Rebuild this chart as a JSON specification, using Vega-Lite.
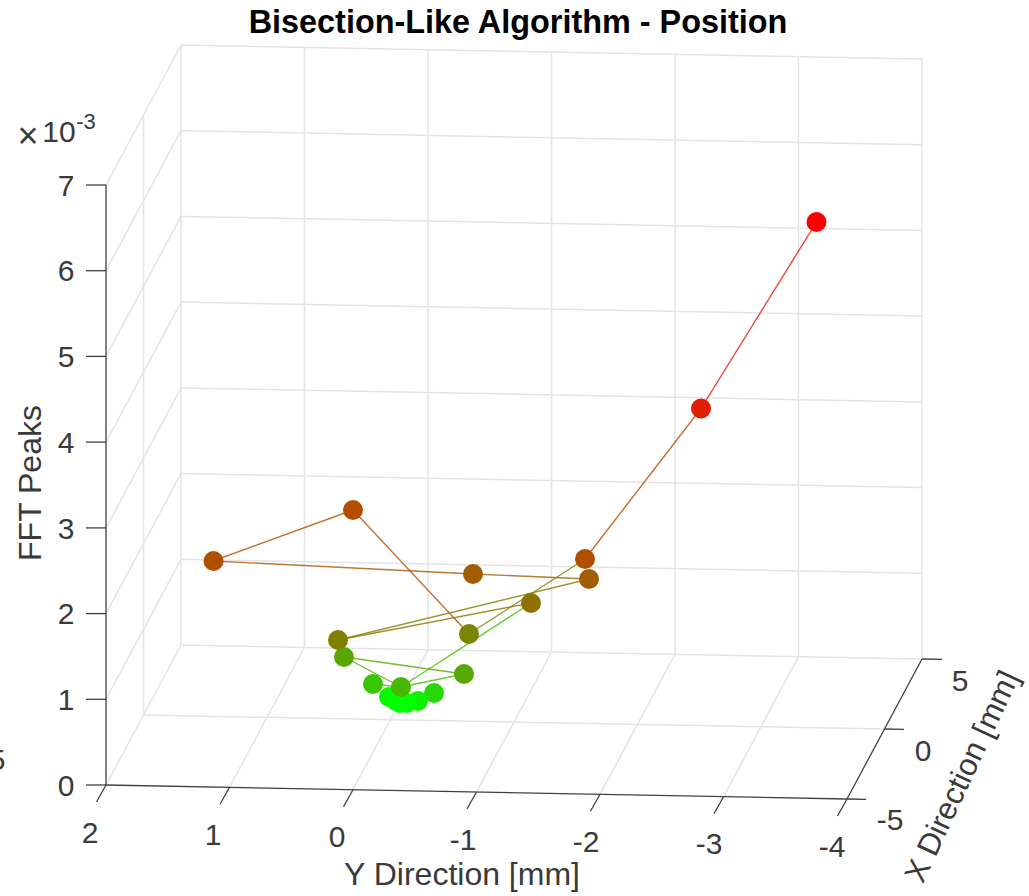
{
"$schema":"https://vega.github.io/schema/vega-lite/v6.json",
"width":1029,"height":896,"padding":0,"autosize":{"type":"none"},
"background":"white",
"config":{"view":{"stroke":null},"text":{"font":"Liberation Sans"}},
"datasets":{
"grid":[
{"x":181,"y":45,"x2":181,"y2":645},{"x":304.5,"y":47.3,"x2":304.5,"y2":647.3},{"x":428,"y":49.7,"x2":428,"y2":649.7},{"x":551.5,"y":52,"x2":551.5,"y2":652},{"x":675,"y":54.3,"x2":675,"y2":654.3},{"x":798.5,"y":56.7,"x2":798.5,"y2":656.7},{"x":922,"y":59,"x2":922,"y2":659},
{"x":143.5,"y":115,"x2":143.5,"y2":715},
{"x":143.5,"y":715,"x2":884.5,"y2":729},
{"x":106,"y":785,"x2":181,"y2":645},{"x":229.5,"y":787.3,"x2":304.5,"y2":647.3},{"x":353,"y":789.7,"x2":428,"y2":649.7},{"x":476.5,"y":792,"x2":551.5,"y2":652},{"x":600,"y":794.3,"x2":675,"y2":654.3},{"x":723.5,"y":796.7,"x2":798.5,"y2":656.7},
{"x":181,"y":645,"x2":922,"y2":659},{"x":181,"y":559.3,"x2":922,"y2":573.3},{"x":181,"y":473.6,"x2":922,"y2":487.6},{"x":181,"y":387.9,"x2":922,"y2":401.9},{"x":181,"y":302.1,"x2":922,"y2":316.1},{"x":181,"y":216.4,"x2":922,"y2":230.4},{"x":181,"y":130.7,"x2":922,"y2":144.7},{"x":181,"y":45,"x2":922,"y2":59},
{"x":106,"y":699.3,"x2":181,"y2":559.3},{"x":106,"y":613.6,"x2":181,"y2":473.6},{"x":106,"y":527.9,"x2":181,"y2":387.9},{"x":106,"y":442.1,"x2":181,"y2":302.1},{"x":106,"y":356.4,"x2":181,"y2":216.4},{"x":106,"y":270.7,"x2":181,"y2":130.7},{"x":106,"y":185,"x2":181,"y2":45}
],
"axes":[
{"x":106,"y":185,"x2":106,"y2":785},{"x":106,"y":785,"x2":847,"y2":799},{"x":847,"y":799,"x2":922,"y2":659},
{"x":86,"y":785,"x2":106,"y2":785},{"x":86,"y":699.3,"x2":106,"y2":699.3},{"x":86,"y":613.6,"x2":106,"y2":613.6},{"x":86,"y":527.9,"x2":106,"y2":527.9},{"x":86,"y":442.1,"x2":106,"y2":442.1},{"x":86,"y":356.4,"x2":106,"y2":356.4},{"x":86,"y":270.7,"x2":106,"y2":270.7},{"x":86,"y":185,"x2":106,"y2":185},
{"x":106,"y":785,"x2":96.5,"y2":802},{"x":229.5,"y":787.3,"x2":220,"y2":804.3},{"x":353,"y":789.7,"x2":343.5,"y2":806.7},{"x":476.5,"y":792,"x2":467,"y2":809},{"x":600,"y":794.3,"x2":590.5,"y2":811.3},{"x":723.5,"y":796.7,"x2":714,"y2":813.7},{"x":847,"y":799,"x2":837.5,"y2":816},
{"x":922,"y":659,"x2":942,"y2":659.4},{"x":884.5,"y":729,"x2":904,"y2":729.4},{"x":847,"y":799,"x2":866,"y2":799.4}
],
"segments":[
{"x":816.5,"y":222,"x2":701,"y2":408.5,"iteration":8},
{"x":701,"y":408.5,"x2":585,"y2":559,"iteration":28},
{"x":353,"y":510,"x2":469,"y2":634,"iteration":30},
{"x":353,"y":510,"x2":213,"y2":561,"iteration":30},
{"x":213,"y":561,"x2":473,"y2":574,"iteration":35},
{"x":473,"y":574,"x2":589,"y2":579,"iteration":37},
{"x":589,"y":579,"x2":338,"y2":640,"iteration":50},
{"x":338,"y":640,"x2":531,"y2":603,"iteration":44},
{"x":469,"y":634,"x2":585,"y2":559,"iteration":50},
{"x":531,"y":603,"x2":401,"y2":687,"iteration":75},
{"x":401,"y":687,"x2":464,"y2":674,"iteration":75},
{"x":464,"y":674,"x2":344,"y2":657,"iteration":66},
{"x":344,"y":657,"x2":401,"y2":687,"iteration":62},
{"x":401,"y":687,"x2":373,"y2":684,"iteration":80}
],
"points":[
{"x":816.5,"y":222,"iteration":0},{"x":701,"y":408.5,"iteration":12},{"x":585,"y":559,"iteration":31},{"x":353,"y":510,"iteration":30},{"x":213.5,"y":561,"iteration":31},{"x":473,"y":574,"iteration":37},{"x":589,"y":579,"iteration":37},{"x":531,"y":603,"iteration":44},{"x":344,"y":657,"iteration":65},{"x":338,"y":640,"iteration":50},{"x":469,"y":634,"iteration":52},{"x":464,"y":674,"iteration":66},{"x":373,"y":684,"iteration":78},{"x":434,"y":693,"iteration":85},{"x":418,"y":701,"iteration":94},{"x":389,"y":697,"iteration":97},{"x":396,"y":701,"iteration":99},{"x":400,"y":703,"iteration":100},{"x":407,"y":703,"iteration":100},{"x":401,"y":687,"iteration":72}
]
},
"layer":[
{"data":{"name":"grid"},"mark":{"type":"rule","stroke":"#e4e4e4","strokeWidth":1.5},
 "encoding":{"x":{"field":"x","type":"quantitative","scale":{"domain":[0,1029],"nice":false,"zero":false},"axis":null},"y":{"field":"y","type":"quantitative","scale":{"domain":[896,0],"nice":false,"zero":false},"axis":null},"x2":{"field":"x2"},"y2":{"field":"y2"}}},
{"data":{"name":"axes"},"mark":{"type":"rule","stroke":"#404040","strokeWidth":1.3},
 "encoding":{"x":{"field":"x","type":"quantitative","axis":null,"scale":{"domain":[0,1029],"nice":false,"zero":false}},"y":{"field":"y","type":"quantitative","axis":null,"scale":{"domain":[896,0],"nice":false,"zero":false}},"x2":{"field":"x2"},"y2":{"field":"y2"}}},
{"data":{"name":"segments"},"mark":{"type":"rule","strokeWidth":1.4,"opacity":0.8},
 "encoding":{"x":{"field":"x","type":"quantitative","axis":null,"scale":{"domain":[0,1029],"nice":false,"zero":false}},"y":{"field":"y","type":"quantitative","axis":null,"scale":{"domain":[896,0],"nice":false,"zero":false}},"x2":{"field":"x2"},"y2":{"field":"y2"},
  "color":{"field":"iteration","type":"quantitative","legend":null,"scale":{"domain":[0,100],"range":["#ff0000","#00ff00"],"interpolate":"rgb"}}}},
{"data":{"name":"points"},"mark":{"type":"circle","size":400,"opacity":1},
 "encoding":{"x":{"field":"x","type":"quantitative","axis":null,"scale":{"domain":[0,1029],"nice":false,"zero":false}},"y":{"field":"y","type":"quantitative","axis":null,"scale":{"domain":[896,0],"nice":false,"zero":false}},
  "color":{"field":"iteration","type":"quantitative","legend":null,"scale":{"domain":[0,100],"range":["#ff0000","#00ff00"],"interpolate":"rgb"}}}},
{"data":{"values":[
 {"x":66,"y":187,"t":"7"},{"x":66,"y":272,"t":"6"},{"x":66,"y":358,"t":"5"},{"x":66,"y":444,"t":"4"},{"x":66,"y":530,"t":"3"},{"x":66,"y":615,"t":"2"},{"x":66,"y":701,"t":"1"},{"x":66,"y":787,"t":"0"},
 {"x":90,"y":834,"t":"2"},{"x":213,"y":836,"t":"1"},{"x":337,"y":838,"t":"0"},{"x":463,"y":841,"t":"-1"},{"x":586,"y":843,"t":"-2"},{"x":709,"y":845,"t":"-3"},{"x":832,"y":848,"t":"-4"},
 {"x":960,"y":682,"t":"5"},{"x":923,"y":752,"t":"0"},{"x":890,"y":821,"t":"-5"},{"x":-3,"y":761,"t":"5"},
 {"x":59,"y":133,"t":"10"}
 ]},
 "mark":{"type":"text","fontSize":30,"align":"center","baseline":"middle","fill":"#3a3a3a","font":"Liberation Sans"},
 "encoding":{"x":{"field":"x","type":"quantitative","axis":null,"scale":{"domain":[0,1029],"nice":false,"zero":false}},"y":{"field":"y","type":"quantitative","axis":null,"scale":{"domain":[896,0],"nice":false,"zero":false}},"text":{"field":"t"}}},
{"data":{"values":[{"x":28,"y":137,"t":"×"}]},
 "mark":{"type":"text","fontSize":36,"align":"center","baseline":"middle","fill":"#3a3a3a","font":"Liberation Sans"},
 "encoding":{"x":{"field":"x","type":"quantitative","axis":null,"scale":{"domain":[0,1029],"nice":false,"zero":false}},"y":{"field":"y","type":"quantitative","axis":null,"scale":{"domain":[896,0],"nice":false,"zero":false}},"text":{"field":"t"}}},
{"data":{"values":[{"x":86,"y":122,"t":"-3"}]},
 "mark":{"type":"text","fontSize":22,"align":"center","baseline":"middle","fill":"#3a3a3a","font":"Liberation Sans"},
 "encoding":{"x":{"field":"x","type":"quantitative","axis":null,"scale":{"domain":[0,1029],"nice":false,"zero":false}},"y":{"field":"y","type":"quantitative","axis":null,"scale":{"domain":[896,0],"nice":false,"zero":false}},"text":{"field":"t"}}},
{"data":{"values":[{"x":462,"y":875,"t":"Y Direction [mm]"}]},
 "mark":{"type":"text","fontSize":32,"align":"center","baseline":"middle","fill":"#3a3a3a","font":"Liberation Sans"},
 "encoding":{"x":{"field":"x","type":"quantitative","axis":null,"scale":{"domain":[0,1029],"nice":false,"zero":false}},"y":{"field":"y","type":"quantitative","axis":null,"scale":{"domain":[896,0],"nice":false,"zero":false}},"text":{"field":"t"}}},
{"data":{"values":[{"x":31,"y":483,"t":"FFT Peaks"}]},
 "mark":{"type":"text","fontSize":32,"angle":270,"align":"center","baseline":"middle","fill":"#3a3a3a","font":"Liberation Sans"},
 "encoding":{"x":{"field":"x","type":"quantitative","axis":null,"scale":{"domain":[0,1029],"nice":false,"zero":false}},"y":{"field":"y","type":"quantitative","axis":null,"scale":{"domain":[896,0],"nice":false,"zero":false}},"text":{"field":"t"}}},
{"data":{"values":[{"x":963,"y":777,"t":"X Direction [mm]"}]},
 "mark":{"type":"text","fontSize":31,"angle":295,"align":"center","baseline":"middle","fill":"#3a3a3a","font":"Liberation Sans"},
 "encoding":{"x":{"field":"x","type":"quantitative","axis":null,"scale":{"domain":[0,1029],"nice":false,"zero":false}},"y":{"field":"y","type":"quantitative","axis":null,"scale":{"domain":[896,0],"nice":false,"zero":false}},"text":{"field":"t"}}},
{"data":{"values":[{"x":518,"y":23,"t":"Bisection-Like Algorithm - Position"}]},
 "mark":{"type":"text","fontSize":32.4,"fontWeight":"bold","align":"center","baseline":"middle","fill":"#000000","font":"Liberation Sans"},
 "encoding":{"x":{"field":"x","type":"quantitative","axis":null,"scale":{"domain":[0,1029],"nice":false,"zero":false}},"y":{"field":"y","type":"quantitative","axis":null,"scale":{"domain":[896,0],"nice":false,"zero":false}},"text":{"field":"t"}}}
]
}
